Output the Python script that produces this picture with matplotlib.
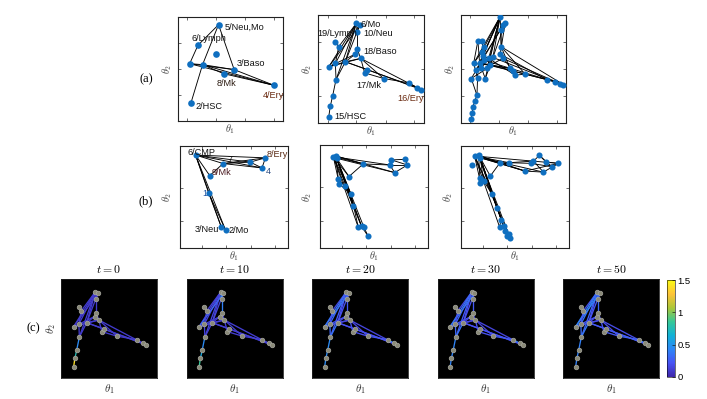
import matplotlib
matplotlib.use("Agg")
import matplotlib.pyplot as plt
import numpy as np
from matplotlib.collections import LineCollection
from matplotlib.colors import LinearSegmentedColormap, Normalize
from matplotlib.cm import ScalarMappable

plt.rcParams['font.family'] = ['Liberation Sans', 'DejaVu Sans']
plt.rcParams['mathtext.fontset'] = 'cm'

# ---------------- DATA ----------------
# (a) panel 1
a1_x = [0.386, 0.190, 0.361, 0.111, 0.234, 0.535, 0.434, 0.915, 0.123]
a1_y = [0.926, 0.728, 0.647, 0.551, 0.542, 0.494, 0.455, 0.343, 0.173]
a1_edges = [(0, 1), (1, 3), (0, 4), (8, 4), (0, 5), (3, 4), (3, 5), (4, 6),
            (4, 7), (6, 7), (5, 7), (3, 7), (4, 5)]
a1_labels = ["5/Neu,Mo", "6/Lymph", "3/Baso", "8/Mk", "4/Ery", "2/HSC"]

# (a) panel 2 (also the graph of row c)
a2_x = [0.362, 0.393, 0.371, 0.164, 0.195, 0.371, 0.352, 0.101, 0.164, 0.258, 0.403,
        0.170, 0.440, 0.462, 0.619, 0.855, 0.934, 0.972, 0.138, 0.116, 0.101]
a2_y = [0.923, 0.907, 0.845, 0.752, 0.706, 0.681, 0.638, 0.520, 0.551, 0.567, 0.598,
        0.402, 0.464, 0.495, 0.412, 0.372, 0.328, 0.310, 0.251, 0.155, 0.056]
a2_edges = [(0, 4), (0, 7), (0, 8), (0, 9), (0, 11), (1, 7), (1, 9), (1, 2), (0, 2), (2, 5),
            (3, 4), (4, 8), (5, 10), (6, 9), (6, 7), (7, 8), (7, 9), (8, 11), (9, 11), (10, 9),
            (10, 7), (10, 12), (10, 14), (10, 17), (9, 13), (9, 16), (12, 13), (12, 14),
            (14, 15), (15, 16), (16, 17), (13, 17), (11, 18), (18, 19), (19, 20)]
a2_labels = ["6/Mo", "19/Lymph", "10/Neu", "18/Baso", "17/Mk", "16/Ery", "15/HSC"]

# (a) panel 3
a3_x = [0.373, 0.421, 0.399, 0.380, 0.161, 0.203, 0.215, 0.199, 0.383, 0.373, 0.399,
        0.120, 0.177, 0.215, 0.263, 0.304, 0.146, 0.190, 0.247, 0.098, 0.158, 0.231,
        0.468, 0.494, 0.516, 0.611, 0.816, 0.896, 0.943, 0.975, 0.152, 0.130, 0.114,
        0.108, 0.098, 0.278, 0.209]
a3_y = [0.985, 0.929, 0.904, 0.861, 0.762, 0.762, 0.700, 0.659, 0.706, 0.638, 0.598,
        0.551, 0.557, 0.582, 0.598, 0.607, 0.489, 0.505, 0.505, 0.412, 0.421, 0.412,
        0.505, 0.483, 0.443, 0.452, 0.402, 0.381, 0.365, 0.356, 0.257, 0.201, 0.149,
        0.096, 0.040, 0.536, 0.619]
a3_edges = [(0, 12), (0, 11), (0, 16), (0, 18), (0, 21), (0, 14), (0, 15), (0, 7), (0, 8),
            (1, 12), (1, 35), (2, 19), (3, 8), (8, 22), (8, 25), (8, 29), (9, 23), (9, 26),
            (10, 28), (11, 35), (12, 22), (12, 25), (13, 29), (14, 24), (15, 27), (16, 20),
            (17, 18), (18, 19), (20, 30), (30, 31), (31, 32), (32, 33), (33, 34), (11, 20),
            (12, 21), (13, 16), (14, 17), (15, 18), (4, 12), (5, 13), (6, 17), (7, 11),
            (4, 11), (21, 35), (35, 10), (22, 23), (23, 24), (24, 25), (25, 26), (26, 27),
            (27, 28), (28, 29), (35, 22), (35, 26), (0, 36), (36, 14), (19, 30), (1, 9)]

# (b) panel 1
b1_x = [0.144, 0.400, 0.650, 0.791, 0.759, 0.275, 0.266, 0.384, 0.422]
b1_y = [0.911, 0.828, 0.842, 0.884, 0.785, 0.710, 0.538, 0.201, 0.175]
b1_edges = [(0, 1), (0, 2), (0, 4), (1, 2), (1, 4), (2, 3), (2, 4), (3, 4), (0, 5),
            (5, 1), (0, 6), (6, 7), (6, 8), (0, 7), (0, 8), (1, 3), (0, 3)]
b1_labels = ["6/CMP", "7", "8/Ery", "4", "9/Mk", "1", "3/Neu", "2/Mo"]

# (b) panel 2
b2_x = [0.123, 0.145, 0.154, 0.400, 0.662, 0.785, 0.646, 0.809, 0.692, 0.268,
        0.169, 0.175, 0.231, 0.286, 0.308, 0.354, 0.385, 0.406, 0.446]
b2_y = [0.887, 0.894, 0.871, 0.816, 0.855, 0.861, 0.806, 0.806, 0.732, 0.694,
        0.668, 0.623, 0.603, 0.526, 0.403, 0.203, 0.210, 0.203, 0.113]
b2_edges = [(1, 3), (0, 3), (2, 8), (1, 8), (0, 6), (3, 6), (4, 5), (4, 6), (5, 7),
            (6, 7), (4, 7), (7, 8), (6, 8), (3, 9), (0, 9), (2, 9), (0, 10), (1, 11),
            (0, 12), (2, 13), (1, 14), (0, 15), (2, 16), (1, 17), (10, 12), (11, 13),
            (12, 14), (13, 15), (14, 16), (16, 18), (15, 17), (17, 18), (0, 2), (2, 14),
            (0, 13), (1, 16)]

# (b) panel 3
b3_x = [0.102, 0.126, 0.163, 0.178, 0.357, 0.446, 0.594, 0.646, 0.671, 0.726, 0.788,
        0.763, 0.840, 0.902, 0.271, 0.172, 0.178, 0.209, 0.286, 0.332, 0.372, 0.357,
        0.394, 0.409, 0.440, 0.455, 0.425]
b3_y = [0.810, 0.902, 0.908, 0.885, 0.830, 0.836, 0.754, 0.830, 0.852, 0.908, 0.843,
        0.744, 0.797, 0.830, 0.705, 0.682, 0.633, 0.656, 0.534, 0.393, 0.279, 0.207,
        0.220, 0.164, 0.141, 0.098, 0.115]
b3_edges = [(1, 5), (1, 6), (2, 6), (3, 11), (1, 13), (2, 4), (4, 5), (6, 11), (7, 8),
            (8, 9), (9, 10), (10, 13), (12, 13), (7, 12), (8, 11), (11, 13), (9, 12),
            (4, 8), (5, 7), (3, 14), (14, 4), (1, 15), (2, 16), (3, 17), (1, 18), (2, 19),
            (3, 20), (1, 21), (2, 22), (3, 23), (1, 24), (2, 25), (3, 26), (15, 16),
            (16, 17), (17, 18), (18, 19), (19, 20), (20, 21), (21, 22), (22, 23),
            (23, 24), (24, 25), (25, 26), (1, 2), (2, 3), (1, 6), (6, 13)]

# (c) edge values (one per a2 edge) at each time
c_times = ["$t = 0$", "$t = 10$", "$t = 20$", "$t = 30$", "$t = 50$"]
c_vals_t0 = [0.10, 0.10, 0.10, 0.10, 0.10, 0.10, 0.10, 0.10, 0.10, 0.10, 0.10, 0.10,
             0.10, 0.10, 0.10, 0.10, 0.10, 0.10, 0.10, 0.10, 0.10, 0.10, 0.10, 0.10,
             0.10, 0.10, 0.10, 0.10, 0.10, 0.10, 0.10, 0.10, 0.45, 0.75, 1.40]
c_vals_t10 = [0.12, 0.15, 0.15, 0.12, 0.15, 0.30, 0.15, 0.25, 0.45, 0.40, 0.15, 0.15,
              0.15, 0.12, 0.12, 0.15, 0.15, 0.15, 0.12, 0.12, 0.12, 0.12, 0.12, 0.12,
              0.12, 0.12, 0.12, 0.12, 0.12, 0.15, 0.20, 0.12, 0.45, 0.60, 0.85]
c_vals_t20 = [0.15, 0.35, 0.30, 0.20, 0.25, 0.35, 0.20, 0.25, 0.30, 0.25, 0.20, 0.20,
              0.15, 0.15, 0.20, 0.40, 0.40, 0.30, 0.35, 0.20, 0.15, 0.20, 0.15, 0.15,
              0.20, 0.20, 0.20, 0.20, 0.25, 0.50, 1.30, 0.20, 0.45, 0.45, 0.45]
c_vals_t30 = [0.15, 0.35, 0.30, 0.20, 0.25, 0.35, 0.20, 0.25, 0.30, 0.25, 0.20, 0.20,
              0.15, 0.15, 0.20, 0.38, 0.40, 0.30, 0.35, 0.20, 0.15, 0.20, 0.15, 0.15,
              0.20, 0.22, 0.22, 0.22, 0.28, 0.45, 1.00, 0.22, 0.42, 0.42, 0.42]
c_vals_t50 = [0.18, 0.40, 0.35, 0.22, 0.28, 0.40, 0.22, 0.28, 0.35, 0.30, 0.22, 0.22,
              0.18, 0.18, 0.22, 0.42, 0.42, 0.32, 0.38, 0.22, 0.18, 0.22, 0.18, 0.18,
              0.22, 0.25, 0.25, 0.25, 0.30, 0.45, 0.90, 0.25, 0.40, 0.40, 0.40]
c_vals = [c_vals_t0, c_vals_t10, c_vals_t20, c_vals_t30, c_vals_t50]
cbar_ticks = [0, 0.5, 1, 1.5]

# ---------------- STYLE / LAYOUT ----------------
W, H = 707, 399
fig = plt.figure(figsize=(W / 100, H / 100), dpi=100)

parula = LinearSegmentedColormap.from_list("parula", [
    (0.2422, 0.1504, 0.6603), (0.2810, 0.3228, 0.9579), (0.1786, 0.5289, 0.9682),
    (0.0689, 0.6948, 0.8394), (0.2161, 0.7843, 0.5923), (0.6720, 0.7793, 0.2227),
    (0.9970, 0.7659, 0.2199), (0.9769, 0.9839, 0.0805)])
norm = Normalize(0, 1.5)

BLUE = '#0f6fc0'
LFS = 6.6


def px_axes(x0, y0, x1, y1):
    return fig.add_axes([x0 / W, 1 - y1 / H, (x1 - x0) / W, (y1 - y0) / H])


def fig_text(x, y, s, **kw):
    fig.text(x / W, 1 - y / H, s, **kw)


def graph_panel(box, xs, ys, edges, xt, yt, ms=4.4):
    ax = px_axes(*box)
    xs = np.asarray(xs); ys = np.asarray(ys)
    segs = [[(xs[i], ys[i]), (xs[j], ys[j])] for i, j in edges]
    ax.add_collection(LineCollection(segs, colors='black', linewidths=0.65, zorder=2))
    ax.plot(xs, ys, 'o', color=BLUE, ms=ms, mec='none', zorder=3)
    ax.set_xlim(0, 1); ax.set_ylim(0, 1)
    ax.set_xticks(xt); ax.set_yticks(yt)
    ax.tick_params(direction='in', length=2.5, width=0.5, colors='#333333',
                   top=True, right=True, labelbottom=False, labelleft=False)
    for s in ax.spines.values():
        s.set_linewidth(0.8); s.set_color('#222222')
    return ax


def axis_labels(box, dy_x=8, dx_y=11):
    x0, y0, x1, y1 = box
    fig_text((x0 + x1) / 2, y1 + dy_x, r"$\theta_1$", ha='center', va='center',
             fontsize=7.5, color='#444444')
    fig_text(x0 - dx_y, (y0 + y1) / 2, r"$\theta_2$", ha='center', va='center',
             fontsize=7.5, color='#444444', rotation=90)


xt_a = [0.09, 0.36, 0.64, 0.91]
yt_a = [0.25, 0.5, 0.75]
xt_b = [0.2, 0.43, 0.66, 0.88]
yt_b = [0.26, 0.59]

# row (a)
box_a1 = (178, 17, 283, 121)
box_a2 = (318, 15, 424, 123)
box_a3 = (461, 15, 566, 123)
ax = graph_panel(box_a1, a1_x, a1_y, a1_edges, xt_a, yt_a, ms=4.8)
a1_pos = [(0.449, 0.904), (0.133, 0.792), (0.560, 0.551), (0.364, 0.365),
          (0.807, 0.247), (0.165, 0.135)]
a1_col = ['#111111', '#111111', '#111111', '#2a1a10', '#6a2a10', '#111111']
for t, (px, py), c in zip(a1_labels, a1_pos, a1_col):
    ax.text(px, py, t, transform=ax.transAxes, fontsize=LFS, color=c, va='center', ha='left', zorder=4)
axis_labels(box_a1)

ax = graph_panel(box_a2, a2_x, a2_y, a2_edges, xt_a, yt_a)
a2_pos = [(0.399, 0.916, 'left'), (0.374, 0.830, 'right'), (0.425, 0.830, 'left'),
          (0.431, 0.666, 'left'), (0.358, 0.350, 'left'), (0.745, 0.226, 'left'),
          (0.157, 0.056, 'left')]
a2_col = ['#111111', '#111111', '#111111', '#111111', '#111111', '#6a2a10', '#111111']
for t, (px, py, ha), c in zip(a2_labels, a2_pos, a2_col):
    ax.text(px, py, t, transform=ax.transAxes, fontsize=LFS, color=c, va='center', ha=ha, zorder=4)
axis_labels(box_a2)

ax = graph_panel(box_a3, a3_x, a3_y, a3_edges, xt_a, yt_a)
axis_labels(box_a3)

# row (b)
box_b1 = (180, 146, 288, 248)
box_b2 = (320, 145, 428, 248)
box_b3 = (461, 146, 569, 248)
ax = graph_panel(box_b1, b1_x, b1_y, b1_edges, xt_b, yt_b)
b1_pos = [(0.072, 0.941, 'left'), (0.44, 0.865, 'left'), (0.806, 0.917, 'left'),
          (0.79, 0.75, 'left'), (0.291, 0.736, 'left'), (0.25, 0.531, 'right'),
          (0.3625, 0.181, 'right'), (0.447, 0.175, 'left')]
b1_col = ['#111111', '#111111', '#5a2a14', '#2a4a80', '#4a1a20', '#1a50a0', '#111111', '#111111']
for t, (px, py, ha), c in zip(b1_labels, b1_pos, b1_col):
    ax.text(px, py, t, transform=ax.transAxes, fontsize=LFS, color=c, va='center', ha=ha, zorder=4)
axis_labels(box_b1, dx_y=13)

graph_panel(box_b2, b2_x, b2_y, b2_edges, xt_b, yt_b)
axis_labels(box_b2, dx_y=13)
graph_panel(box_b3, b3_x, b3_y, b3_edges, xt_b, yt_b)
axis_labels(box_b3, dx_y=13)

# row labels
fig_text(146, 79, "(a)", fontsize=9, family='Liberation Serif', ha='center', va='center')
fig_text(146, 201, "(b)", fontsize=9, family='Liberation Serif', ha='center', va='center')
fig_text(33, 328, "(c)", fontsize=9, family='Liberation Serif', ha='center', va='center')

# row (c)
cx = np.asarray(a2_x); cy = np.asarray(a2_y)
for k, (title, vals) in enumerate(zip(c_times, c_vals)):
    x0 = 61 + 125.5 * k
    box = (x0, 279, x0 + 96, 378)
    ax = px_axes(*box)
    ax.set_facecolor('black')
    segs = [[(cx[i], cy[i]), (cx[j], cy[j])] for i, j in a2_edges]
    lc = LineCollection(segs, cmap=parula, norm=norm, linewidths=0.95, zorder=2)
    lc.set_array(np.asarray(vals))
    ax.add_collection(lc)
    ax.plot(cx, cy, 'o', ms=3.3, mfc='#8a8a78', mec='#a8a8a0', mew=0.5, zorder=3)
    ax.set_xlim(-0.05, 1.10); ax.set_ylim(-0.07, 1.07)
    ax.set_xticks([]); ax.set_yticks([])
    for s in ax.spines.values():
        s.set_linewidth(0.6); s.set_color('#222222')
    fig_text(x0 + 48, 270, title, ha='center', va='center', fontsize=8.5)
    fig_text(x0 + 48, 389, r"$\theta_1$", ha='center', va='center', fontsize=8, color='#333333')
    if k == 0:
        fig_text(51, 329, r"$\theta_2$", ha='center', va='center', fontsize=8,
                 color='#333333', rotation=90)

cax = px_axes(667, 280, 675, 377)
cb = fig.colorbar(ScalarMappable(norm=norm, cmap=parula), cax=cax)
cb.set_ticks(cbar_ticks)
cb.set_ticklabels(['0', '0.5', '1', '1.5'])
cb.ax.tick_params(labelsize=6.8, length=2, width=0.4, direction='in', pad=2)
cb.outline.set_linewidth(0.4)

fig.savefig("out.png", dpi=100)
